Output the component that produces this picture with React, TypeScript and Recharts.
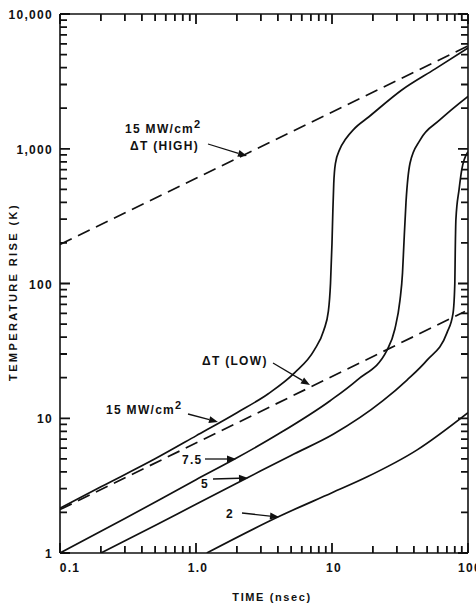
import { Customized, Line, LineChart, ReferenceLine, XAxis, YAxis } from 'recharts'

// time (nsec) vs temperature rise (K)
const timeTicks = [
  0.1, 0.2, 0.3, 0.4, 0.5, 0.6, 0.7, 0.8, 0.9,
  1, 2, 3, 4, 5, 6, 7, 8, 9,
  10, 20, 30, 40, 50, 60, 70, 80, 90, 100
]
const timeMajor = [0.1, 1, 10, 100]
const timeLabels = ['0.1', '1.0', '10', '100']

const tempTicks = [
  1, 2, 3, 4, 5, 6, 7, 8, 9,
  10, 20, 30, 40, 50, 60, 70, 80, 90,
  100, 200, 300, 400, 500, 600, 700, 800, 900,
  1000, 2000, 3000, 4000, 5000, 6000, 7000, 8000, 9000, 10000
]
const tempMajor = [1, 10, 100, 1000, 10000]
const tempLabels = ['1', '10', '100', '1,000', '10,000']

const dtHigh = [
  { t: 0.1, T: 195 },
  { t: 100, T: 5800 }
]
const dtLow = [
  { t: 0.1, T: 2.1 },
  { t: 95, T: 62 }
]
const flux15 = [
  { t: 0.1, T: 2.15 }, { t: 0.2, T: 3.1 }, { t: 0.5, T: 5.0 }, { t: 1.0, T: 7.4 },
  { t: 2.0, T: 11.0 }, { t: 3.4, T: 15.2 }, { t: 5.3, T: 21.7 }, { t: 7.4, T: 32 },
  { t: 8.7, T: 45 }, { t: 9.4, T: 62 }, { t: 9.75, T: 100 }, { t: 10.0, T: 200 },
  { t: 10.15, T: 350 }, { t: 10.3, T: 550 }, { t: 10.6, T: 780 }, { t: 11.4, T: 990 },
  { t: 12.6, T: 1180 }, { t: 14.5, T: 1400 }, { t: 18.6, T: 1720 }, { t: 32.6, T: 2730 },
  { t: 57, T: 3900 }, { t: 100, T: 5600 }
]
const flux7_5 = [
  { t: 0.1, T: 1.0 }, { t: 0.3, T: 1.8 }, { t: 1.0, T: 3.5 }, { t: 1.94, T: 5.0 },
  { t: 4, T: 7.6 }, { t: 9.7, T: 13.5 }, { t: 15.3, T: 19.2 }, { t: 25.4, T: 32 },
  { t: 29, T: 46 }, { t: 31.6, T: 75 }, { t: 33, T: 120 }, { t: 33.8, T: 200 },
  { t: 35, T: 400 }, { t: 37.5, T: 784 }, { t: 44.4, T: 1160 }, { t: 62, T: 1635 },
  { t: 100, T: 2450 }
]
const flux5 = [
  { t: 0.2, T: 1.0 }, { t: 0.5, T: 1.6 }, { t: 1.0, T: 2.3 }, { t: 2.37, T: 3.6 },
  { t: 5, T: 5.3 }, { t: 10.2, T: 7.6 }, { t: 23.7, T: 13.5 }, { t: 35.6, T: 19.2 },
  { t: 50, T: 27 }, { t: 70, T: 43 }, { t: 77.6, T: 60 }, { t: 80, T: 100 },
  { t: 80.6, T: 177 }, { t: 81.5, T: 300 }, { t: 86, T: 500 }, { t: 90, T: 700 },
  { t: 100, T: 950 }
]
const flux2 = [
  { t: 1.2, T: 1.0 }, { t: 4, T: 1.85 }, { t: 10, T: 2.8 }, { t: 18, T: 3.66 },
  { t: 42, T: 5.8 }, { t: 100, T: 11 }
]

const WIDTH = 476
const HEIGHT = 607
const M_TOP = 14
const M_RIGHT = 8
const Y_AXIS_W = 60
const X_AXIS_H = 54
// plot box that those sizes give
const P_LEFT = Y_AXIS_W
const P_RIGHT = WIDTH - M_RIGHT
const P_TOP = M_TOP
const P_BOTTOM = HEIGHT - X_AXIS_H

const INK = '#111'
const FONT = "'Liberation Sans', Arial, Helvetica, sans-serif"
const textStyle = { fontFamily: FONT, fontWeight: 700, fontSize: 12, letterSpacing: 1.3, fill: INK }

const TimeLabel = (props: any) => {
  const { x, y, payload } = props
  const i = timeMajor.indexOf(payload.value)
  if (i < 0) return <g />
  return (
    <text x={i === 0 ? x + 10 : x + 2} y={y + 19} textAnchor="middle" style={textStyle}>
      {timeLabels[i]}
    </text>
  )
}

const TempLabel = (props: any) => {
  const { x, y, payload } = props
  const i = tempMajor.indexOf(payload.value)
  if (i < 0) return <g />
  return (
    <text x={x - 7} y={y + 5} textAnchor="end" style={textStyle}>
      {tempLabels[i]}
    </text>
  )
}

// path for the inward tick marks on all four sides of the frame
const tickPath = () => {
  const sx = (t: number) => P_LEFT + ((Math.log10(t) + 1) / 3) * (P_RIGHT - P_LEFT)
  const sy = (v: number) => P_BOTTOM - (Math.log10(v) / 4) * (P_BOTTOM - P_TOP)
  let d = ''
  for (const t of timeTicks) {
    const len = timeMajor.indexOf(t) >= 0 ? 10 : 7
    const x = sx(t).toFixed(1)
    d += `M${x} ${P_BOTTOM}V${P_BOTTOM - len}M${x} ${P_TOP}V${P_TOP + len}`
  }
  for (const v of tempTicks) {
    const len = tempMajor.indexOf(v) >= 0 ? 10 : 7
    const y = sy(v).toFixed(1)
    d += `M${P_LEFT} ${y}H${P_LEFT + len}M${P_RIGHT} ${y}H${P_RIGHT - len}`
  }
  return d
}

const Arrow = ({ x1, y1, x2, y2 }: { x1: number; y1: number; x2: number; y2: number }) => {
  const a = Math.atan2(y2 - y1, x2 - x1)
  const L = 9
  const W = 3.5
  const bx = x2 - L * Math.cos(a)
  const by = y2 - L * Math.sin(a)
  const px = -Math.sin(a) * W
  const py = Math.cos(a) * W
  return (
    <g>
      <line x1={x1} y1={y1} x2={bx} y2={by} stroke={INK} strokeWidth={1.3} />
      <polygon points={`${x2},${y2} ${bx + px},${by + py} ${bx - px},${by - py}`} fill={INK} />
    </g>
  )
}

const Annotations = () => (
  <g>
    <path d={tickPath()} stroke={INK} strokeWidth={1.8} fill="none" />

    <text x={125} y={133} style={textStyle}>
      15 MW/cm<tspan dy={-5} fontSize={11}>2</tspan>
    </text>
    <text x={130} y={150} style={textStyle}>ΔT (HIGH)</text>
    <Arrow x1={208} y1={144} x2={247} y2={156} />

    <text x={202} y={365} style={textStyle}>ΔT (LOW)</text>
    <Arrow x1={273} y1={363} x2={310} y2={385} />

    <text x={106} y={414} style={textStyle}>
      15 MW/cm<tspan dy={-5} fontSize={11}>2</tspan>
    </text>
    <Arrow x1={188} y1={414} x2={218} y2={422} />

    <text x={182} y={464} style={textStyle}>7.5</text>
    <Arrow x1={205} y1={459} x2={236} y2={459} />

    <text x={201} y={488} style={textStyle}>5</text>
    <Arrow x1={213} y1={479} x2={248} y2={478} />

    <text x={226} y={518} style={textStyle}>2</text>
    <Arrow x1={242} y1={513} x2={279} y2={517} />

    <text
      transform="translate(17 292) rotate(-90)"
      textAnchor="middle"
      style={{ ...textStyle, fontSize: 11, letterSpacing: 2.4 }}
    >
      TEMPERATURE RISE (K)
    </text>
    <text x={272} y={601} textAnchor="middle" style={{ ...textStyle, fontSize: 11, letterSpacing: 1.6 }}>
      TIME (nsec)
    </text>
  </g>
)

const lineProps = {
  xAxisId: 'time',
  yAxisId: 'temp',
  dataKey: 'T',
  stroke: INK,
  strokeWidth: 1.7,
  dot: false,
  activeDot: false,
  isAnimationActive: false,
  type: 'monotone' as const
}

const App = () => {
  return (
    <div style={{ position: 'absolute', left: 0, top: 0, background: '#fff' }}>
      <LineChart width={WIDTH} height={HEIGHT} margin={{ top: M_TOP, right: M_RIGHT, left: 0, bottom: 0 }}>
        <XAxis
          xAxisId="time"
          dataKey="t"
          type="number"
          scale="log"
          domain={[0.1, 100]}
          allowDataOverflow
          ticks={timeMajor}
          interval={0}
          tickSize={0}
          tickMargin={0}
          tickLine={false}
          tick={<TimeLabel />}
          height={X_AXIS_H}
          axisLine={{ stroke: INK, strokeWidth: 1.6 }}
        />
        <YAxis
          yAxisId="temp"
          type="number"
          scale="log"
          domain={[1, 10000]}
          allowDataOverflow
          ticks={tempMajor}
          interval={0}
          tickSize={0}
          tickMargin={0}
          tickLine={false}
          tick={<TempLabel />}
          width={Y_AXIS_W}
          axisLine={{ stroke: INK, strokeWidth: 1.6 }}
        />
        <ReferenceLine xAxisId="time" yAxisId="temp" x={100} stroke={INK} strokeWidth={1.6} />
        <ReferenceLine xAxisId="time" yAxisId="temp" y={10000} stroke={INK} strokeWidth={1.6} />

        <Line {...lineProps} data={dtHigh} strokeDasharray="13 7" />
        <Line {...lineProps} data={dtLow} strokeDasharray="13 7" />
        <Line {...lineProps} data={flux15} />
        <Line {...lineProps} data={flux7_5} />
        <Line {...lineProps} data={flux5} />
        <Line {...lineProps} data={flux2} />
        <Customized component={<Annotations />} />
      </LineChart>
    </div>
  )
}

export default App
